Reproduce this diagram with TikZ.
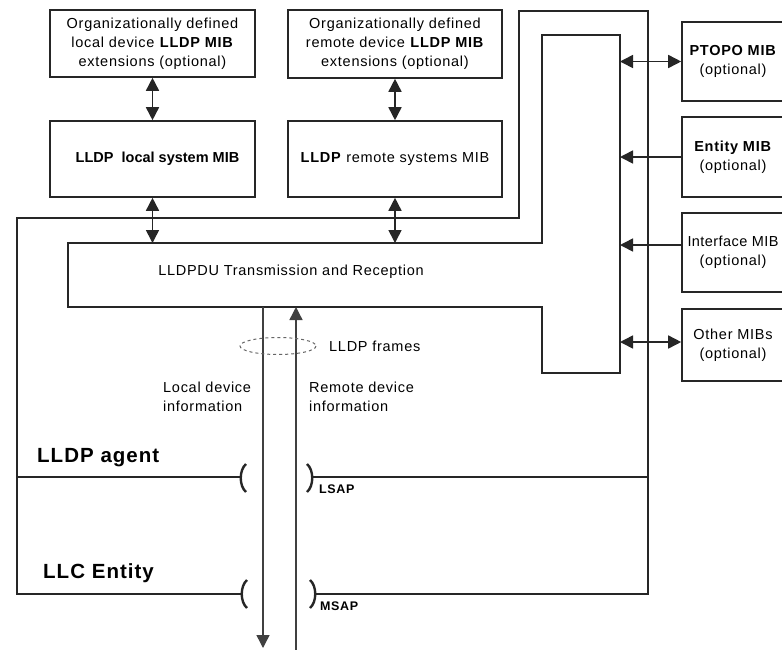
\documentclass[tikz,border=0pt]{standalone}
\usepackage{fontspec}
\setmainfont[LetterSpace=5]{Liberation Sans}
\usetikzlibrary{arrows.meta,calc}
\newcommand\txtA{\fontsize{14.5}{19}\selectfont}
\begin{document}
\begin{tikzpicture}[x=1pt,y=-1pt,
  bighead/.tip={Triangle[length=13pt,width=13pt]},
  ln/.style={draw=black!85,line width=1.6pt},
  mbox/.style={ln,rectangle,inner sep=0pt,align=center,font=\txtA},
  arr/.style={ln,-bighead},
  dbl/.style={ln,bighead-bighead},
  vline/.style={draw=black!75,line width=1.4pt,-bighead},
  brk/.style={draw=black!85,line width=2.4pt},
  lbl/.style={inner sep=0pt,font=\txtA,align=left}]
\useasboundingbox (0,0) rectangle (782,649);
\clip (0,0) rectangle (782,649);
\fill[white] (0,0) rectangle (782,649);

% MIB boxes on the left
\node[mbox,minimum width=205pt,minimum height=67pt] (orgL) at (152.5,43.5)
  {Organizationally defined\\local device \textbf{LLDP MIB}\\extensions (optional)};
\node[mbox,minimum width=205pt,minimum height=76pt] (locMIB) at (152.5,159)
  {\hspace*{10pt}\addfontfeature{LetterSpace=0}\textbf{LLDP\ \ local system MIB}};
\node[mbox,minimum width=214pt,minimum height=68pt] (orgR) at (395,44)
  {Organizationally defined\\remote device \textbf{LLDP MIB}\\extensions (optional)};
\node[mbox,minimum width=214pt,minimum height=76pt] (remMIB) at (395,159)
  {\textbf{LLDP} remote systems MIB};

% outer LLDP agent frame
\draw[ln] (241,594) -- (17,594) -- (17,218) -- (519,218) -- (519,11) -- (648,11) -- (648,594) -- (315,594);
\draw[ln] (17,477) -- (241,477);
\draw[ln] (312,477) -- (648,477);

% LLDPDU transmission and reception block
\coordinate (pduTL) at (68,243);
\coordinate (pduR) at (620,35);
\draw[ln] (68,243) -- (542,243) -- (542,35) -- (620,35) -- (620,373) -- (542,373) -- (542,307) -- (68,307) -- cycle;
\node[lbl] (pduT) at (291,272) {LLDPDU Transmission and Reception};

% right MIB boxes (their right edges lie beyond the picture)
\node[mbox,minimum width=102pt,minimum height=79pt] (ptopo) at (733,61.5) {\textbf{PTOPO MIB}\\(optional)};
\node[mbox,minimum width=102pt,minimum height=80pt] (entity) at (733,157) {\textbf{Entity MIB}\\(optional)};
\node[mbox,minimum width=102pt,minimum height=79pt] (iface) at (733,252.5) {\addfontfeature{LetterSpace=3}Interface MIB\\(optional)};
\node[mbox,minimum width=102pt,minimum height=72pt] (other) at (733,345) {Other MIBs\\(optional)};

% arrows
\draw[dbl] (orgL) -- (locMIB);
\draw[dbl] (locMIB.south) -- (locMIB.south |- pduTL);
\draw[dbl] (orgR) -- (remMIB);
\draw[dbl] (remMIB.south) -- (remMIB.south |- pduTL);
\draw[dbl] (ptopo.west) -- (ptopo.west -| pduR);
\draw[arr] (entity.west) -- (entity.west -| pduR);
\coordinate (ifA) at ($(iface.west)+(0,-7.5)$);
\draw[arr] (ifA) -- (ifA -| pduR);
\coordinate (otA) at ($(other.west)+(0,-3)$);
\draw[dbl] (otA) -- (otA -| pduR);

% frame flows
\coordinate (dnTop) at (263,307);
\coordinate (dnBot) at (263,648);
\coordinate (upBot) at (296,650);
\coordinate (upTop) at (296,307);
\draw[vline] (dnTop) -- (dnBot);
\draw[vline] (upBot) -- (upTop);
\draw[dashed,draw=black!60,line width=1pt] (278,346) ellipse [x radius=38, y radius=8.5];
\node[lbl,anchor=west] (frames) at (329,346) {LLDP frames};
\node[lbl,anchor=west] (locInfo) at (163,397) {Local device\\information};
\node[lbl,anchor=west] (remInfo) at (309,397) {Remote device\\information};

% service access points
\draw[brk] (246,464) .. controls (239,470) and (239,486) .. (246,492);
\draw[brk] (307,464) .. controls (314,470) and (314,486) .. (307,492);
\draw[brk] (247,580) .. controls (240,586) and (240,602) .. (247,608);
\draw[brk] (310,580) .. controls (317,586) and (317,602) .. (310,608);
\node[anchor=west,inner sep=0pt,font=\fontsize{12.5}{14}\selectfont\bfseries] (lsap) at (319,489) {LSAP};
\node[anchor=west,inner sep=0pt,font=\fontsize{12.5}{14}\selectfont\bfseries] (msap) at (320,606) {MSAP};

% layer labels
\node[anchor=base west,inner sep=0pt,font=\fontsize{20.5}{24}\selectfont\bfseries] (agent) at (37,462) {LLDP agent};
\node[anchor=base west,inner sep=0pt,font=\fontsize{20.5}{24}\selectfont\bfseries] (llc) at (43,578) {LLC Entity};
\end{tikzpicture}
\end{document}
